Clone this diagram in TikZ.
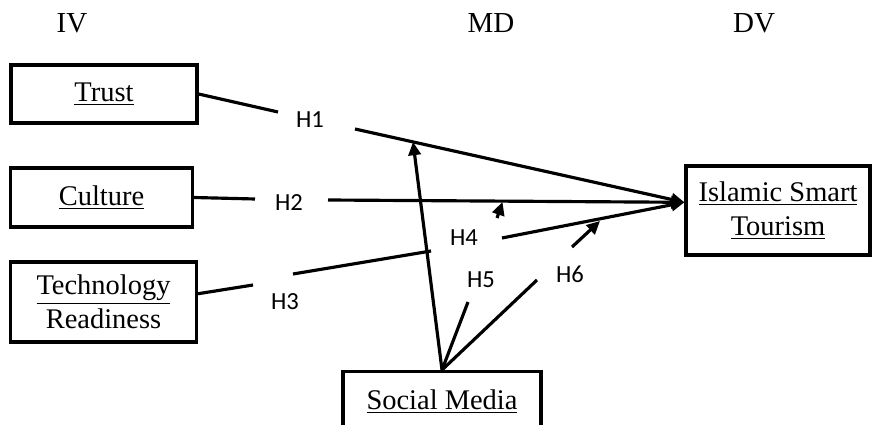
\documentclass[tikz,border=0pt]{standalone}
\usepackage{fontspec}
\setmainfont{Liberation Serif}
\newfontfamily\hfont{Carlito}
\usetikzlibrary{arrows.meta}

\begin{document}
\begin{tikzpicture}[x=0.02cm,y=-0.02cm,
    box/.style={draw,line width=1.8pt,inner sep=0pt,align=center,font=\fontsize{16.2}{19.5}\selectfont},
    hlab/.style={inner sep=0pt,font=\hfont\fontsize{14}{16}\selectfont},
    head/.style={inner sep=0pt,font=\fontsize{16.5}{19}\selectfont},
    link/.style={line width=1.8pt},
    arr/.style={line width=1.8pt,-{Triangle[length=7.5pt,width=7pt]}}]
\useasboundingbox (0,0) rectangle (875,425);
\clip (0,0) rectangle (875,425);

% column heads
\node[head] (iv) at (72,23) {IV};
\node[head] (md) at (491,23) {MD};
\node[head] (dv) at (754,23) {DV};

% variables
\node[box,minimum width=3.72cm,minimum height=1.16cm] (trust) at (104,94) {\underline{Trust}};
\node[box,minimum width=3.64cm,minimum height=1.18cm] (culture) at (101.5,197.5) {\underline{Culture}};
\node[box,minimum width=3.72cm,minimum height=1.6cm] (tech) at (103.5,302) {\underline{Technology}\\Readiness};
\node[box,minimum width=3.68cm,minimum height=1.78cm] (ist) at (778,210.5) {\underline{Islamic Smart}\\\underline{Tourism}};
\node[box,minimum width=3.96cm,minimum height=1.2cm] (sm) at (442,401.5) {\underline{Social Media}};

% hypothesis labels
\node[hlab] (h1) at (310,120) {H1};
\node[hlab] (h2) at (289,203) {H2};
\node[hlab] (h3) at (285,302) {H3};
\node[hlab] (h4) at (464,238) {H4};
\node[hlab] (h5) at (481,280) {H5};
\node[hlab] (h6) at (570,274) {H6};

% line ends
\coordinate (t1) at (278,112);
\coordinate (t2) at (355,129);
\coordinate (c1) at (255,199);
\coordinate (c2) at (328,200);
\coordinate (r1) at (253,285);
\coordinate (r2) at (293,274);
\coordinate (r3) at (431,251);
\coordinate (r4) at (502,238);
\coordinate (m1) at (413,142);
\coordinate (m5a) at (468,302);
\coordinate (m5b) at (497,218);
\coordinate (m5c) at (502.5,202);
\coordinate (m6a) at (537,280);
\coordinate (m6b) at (572,247);
\coordinate (m6c) at (600,221);

% direct paths
\draw[link] (trust.east) -- (t1);
\draw[arr] (t2) -- (ist.175);
\draw[link] (culture.east) -- (c1);
\draw[arr] (c2) -- (ist.175);
\draw[link] (tech.5) -- (r1);
\draw[link] (r2) -- (r3);
\draw[arr] (r4) -- (ist.175);

% moderation
\draw[arr] (sm.north) -- (m1);
\draw[link] (sm.north) -- (m5a);
\draw[arr] (m5b) -- (m5c);
\draw[link] (sm.north) -- (m6a);
\draw[arr] (m6b) -- (m6c);
\end{tikzpicture}
\end{document}
